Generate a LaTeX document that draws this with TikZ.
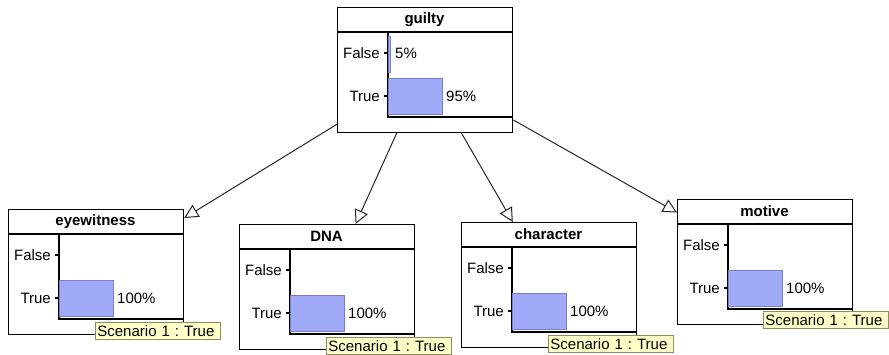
\documentclass[tikz,border=0pt]{standalone}
\usepackage{fontspec}
\setmainfont{Liberation Sans}
\usetikzlibrary{arrows.meta}
\frenchspacing

\definecolor{barfill}{RGB}{160,170,248}
\definecolor{bardraw}{RGB}{118,128,200}
\definecolor{tipfill}{RGB}{255,255,200}
\definecolor{tipdraw}{RGB}{140,140,96}

\tikzset{
  bnnode/.style={draw=black, line width=1.2pt, fill=white, rectangle,
    minimum width=175pt, minimum height=125pt, inner sep=0pt, anchor=north west},
  titletext/.style={font=\fontsize{15}{17}\selectfont\bfseries, inner sep=0pt},
  statelabel/.style={font=\fontsize{15}{17}\selectfont, inner sep=0pt, anchor=east},
  pcttext/.style={font=\fontsize{15}{17}\selectfont, inner sep=0pt, anchor=west},
  axisline/.style={draw=black, line width=1.1pt},
  probbar/.style={draw=bardraw, fill=barfill, line width=0.8pt},
  tipbox/.style={draw=tipdraw, fill=tipfill, line width=0.8pt, anchor=north west,
    font=\fontsize{15}{17}\selectfont, text width=121pt, inner xsep=2pt,
    inner ysep=0pt, minimum height=17pt, align=left},
  link/.style={draw=black!85, line width=1pt,
    -{Triangle[open, length=14pt, width=14pt, line width=1pt]}},
}

% frame, title rule, axes and state ticks of one network node
\newcommand\bnframe[2]{%
  \node[bnnode] (#1) at (0,0) {};
  \node[titletext] (#1-title) at (87.5,12.5) {#2};
  \draw[axisline] (0,25) -- (175,25);
  \draw[axisline] (51,25) -- (51,110) -- (175,110);
  \draw[axisline] (47,46) -- (51,46);
  \draw[axisline] (47,89) -- (51,89);
  \node[statelabel] (#1-false) at (43,46) {False};
  \node[statelabel] (#1-true) at (43,89) {True};
}

\begin{document}
\begin{tikzpicture}[x=1pt, y=-1pt]
\useasboundingbox (0,0) rectangle (889,354);

% parent node
\begin{scope}[shift={(337,7)}]
  \bnframe{guilty}{guilty}
  \draw[probbar] (51,29) rectangle (53.5,65);
  \node[pcttext] (guilty-pf) at (58,46) {5\%};
  \draw[probbar] (51,71) rectangle (105,107);
  \node[pcttext] (guilty-pt) at (109,89) {95\%};
\end{scope}

% evidence nodes, each observed as True
\begin{scope}[shift={(8,209)}]
  \bnframe{eyewitness}{eyewitness}
  \draw[probbar] (51,71) rectangle (105,107);
  \node[pcttext] (eyewitness-pt) at (109,89) {100\%};
\end{scope}

\begin{scope}[shift={(239,224)}]
  \bnframe{dna}{DNA}
  \draw[probbar] (51,71) rectangle (105,107);
  \node[pcttext] (dna-pt) at (109,89) {100\%};
\end{scope}

\begin{scope}[shift={(461,222)}]
  \bnframe{character}{character}
  \draw[probbar] (51,71) rectangle (105,107);
  \node[pcttext] (character-pt) at (109,89) {100\%};
\end{scope}

\begin{scope}[shift={(677,199)}]
  \bnframe{motive}{motive}
  \draw[probbar] (51,71) rectangle (105,107);
  \node[pcttext] (motive-pt) at (109,89) {100\%};
\end{scope}

% dependencies
\draw[link] (guilty) -- (eyewitness);
\draw[link] (guilty) -- (dna);
\draw[link] (guilty) -- (character);
\draw[link] (guilty) -- (motive);

% scenario tooltips
\node[tipbox] (eyewitness-tip) at (95,322) {Scenario 1 : True};
\node[tipbox] (dna-tip) at (326,337) {Scenario 1 : True};
\node[tipbox] (character-tip) at (548,335) {Scenario 1 : True};
\node[tipbox] (motive-tip) at (763,311) {Scenario 1 : True};
\end{tikzpicture}
\end{document}
